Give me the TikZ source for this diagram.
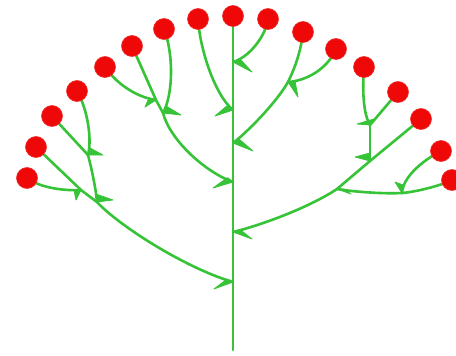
\documentclass[tikz,border=0pt]{standalone}
\usetikzlibrary{backgrounds}
\definecolor{branch}{RGB}{55,195,55}
\definecolor{berry}{RGB}{238,8,8}
\begin{document}
\begin{tikzpicture}[x=1pt,y=-1pt,
  leaf/.style={circle,fill=berry,draw=berry!85!white,line width=0.6pt,minimum size=21pt,inner sep=0pt},
  twig/.style={draw=branch,line width=2.6pt,line cap=round,line join=round},
  flag/.style={fill=branch,draw=branch,line width=0.8pt,line join=round}]
\useasboundingbox (0,0) rectangle (456,356);
% leaves
\node[leaf] (L1) at (27,178) {};
\node[leaf] (L2) at (36,147) {};
\node[leaf] (L3) at (52,116) {};
\node[leaf] (L4) at (77,91) {};
\node[leaf] (L5) at (105,67) {};
\node[leaf] (L6) at (132,46) {};
\node[leaf] (L7) at (164,29) {};
\node[leaf] (L8) at (198,19) {};
\node[leaf] (L9) at (233,16) {};
\node[leaf] (L10) at (268,19) {};
\node[leaf] (L11) at (303,32) {};
\node[leaf] (L12) at (336,49) {};
\node[leaf] (L13) at (364,67) {};
\node[leaf] (L14) at (398,92) {};
\node[leaf] (L15) at (421,119) {};
\node[leaf] (L16) at (441,151) {};
\node[leaf] (L17) at (452,180) {};
% junctions
\coordinate (T1) at (233,62);
\coordinate (T2) at (233,110);
\coordinate (T3) at (233,143);
\coordinate (T4) at (233,182);
\coordinate (T5) at (233,232);
\coordinate (T6) at (233,282);
\coordinate (bot) at (233,350);
\coordinate (JR1) at (288,82);
\coordinate (JR2) at (337,189);
\coordinate (JR3) at (370,161);
\coordinate (JR4) at (402,193);
\coordinate (JR5) at (370,125);
\coordinate (JL1) at (163,113);
\coordinate (JL5) at (156,100);
\coordinate (JL2) at (81,190);
\coordinate (JL3) at (88,155);
\coordinate (JL4) at (97,202);
\begin{scope}[on background layer]
% trunk
\draw[twig] (L9.center) -- (bot);
% upper trunk branches
\draw[twig] (L10.center) .. controls (266,35) and (250,57) .. (T1);
\draw[twig] (L8.center) .. controls (200,50) and (215,95) .. (T2);
\draw[twig] (L11.center) .. controls (301,52) and (294,70) .. (JR1);
\draw[twig] (L12.center) .. controls (327,70) and (305,81) .. (JR1);
\draw[twig] (JR1) .. controls (278,100) and (250,130) .. (T3);
% left middle group
\draw[twig] (L6.center) -- (JL5) -- (JL1);
\draw[twig] (L5.center) .. controls (115,82) and (135,97) .. (JL5);
\draw[twig] (L7.center) .. controls (174,55) and (173,95) .. (JL1);
\draw[twig] (JL1) .. controls (170,140) and (205,172) .. (T4);
% right big group
\draw[twig] (L15.center) -- (JR3) -- (JR2);
\draw[twig] (JR2) .. controls (310,207) and (262,225) .. (T5);
\draw[twig] (L17.center) .. controls (440,186) and (415,192) .. (JR4);
\draw[twig] (JR4) .. controls (385,194) and (355,192) .. (JR2);
\draw[twig] (L16.center) .. controls (420,162) and (403,178) .. (JR4);
\draw[twig] (L13.center) .. controls (362,95) and (364,115) .. (JR5);
\draw[twig] (L14.center) -- (JR5);
\draw[twig] (JR5) -- (JR3);
% left big group
\draw[twig] (L2.center) -- (JL2) -- (JL4);
\draw[twig] (JL4) .. controls (118,225) and (185,268) .. (T6);
\draw[twig] (L3.center) -- (JL3);
\draw[twig] (L4.center) .. controls (88,110) and (92,140) .. (JL3);
\draw[twig] (JL3) .. controls (92,170) and (96,190) .. (JL4);
\draw[twig] (L1.center) .. controls (40,188) and (65,191) .. (JL2);
% arrow flags
\filldraw[flag] (T1) -- +(19,10) -- +(7,-3) -- cycle;
\filldraw[flag] (T2) -- +(-18,6) -- +(-5,-5) -- cycle;
\filldraw[flag] (T3) -- +(20,8) -- +(6,-4) -- cycle;
\filldraw[flag] (T4) -- +(-20,6) -- +(-5.5,-4.4) -- cycle;
\filldraw[flag] (T5) -- +(19,7) -- +(7,-2.5) -- cycle;
\filldraw[flag] (T6) -- +(-19,7) -- +(-6,-3) -- cycle;
\filldraw[flag] (JR1) -- +(10,15) -- +(7,-1) -- cycle;
\filldraw[flag] (JR5) -- +(-13,-1) -- +(4,-6) -- cycle;
\filldraw[flag] (JR3) -- +(-15,-4) -- +(0,-8) -- cycle;
\filldraw[flag] (JR4) -- +(-7,-11) -- +(1,-8) -- cycle;
\filldraw[flag] (JR2) -- +(14,5) -- +(7,0) -- cycle;
\filldraw[flag] (JL5) -- +(-11,7) -- +(-7,-2) -- cycle;
\filldraw[flag] (JL1) -- +(18,2) -- +(3,-7) -- cycle;
\filldraw[flag] (JL3) -- +(15,0) -- +(2,-7) -- cycle;
\filldraw[flag] (JL2) -- +(-5,10) -- +(-7,0) -- cycle;
\filldraw[flag] (JL4) -- +(16,-2) -- +(-1,-8) -- cycle;
\end{scope}
\end{tikzpicture}
\end{document}
